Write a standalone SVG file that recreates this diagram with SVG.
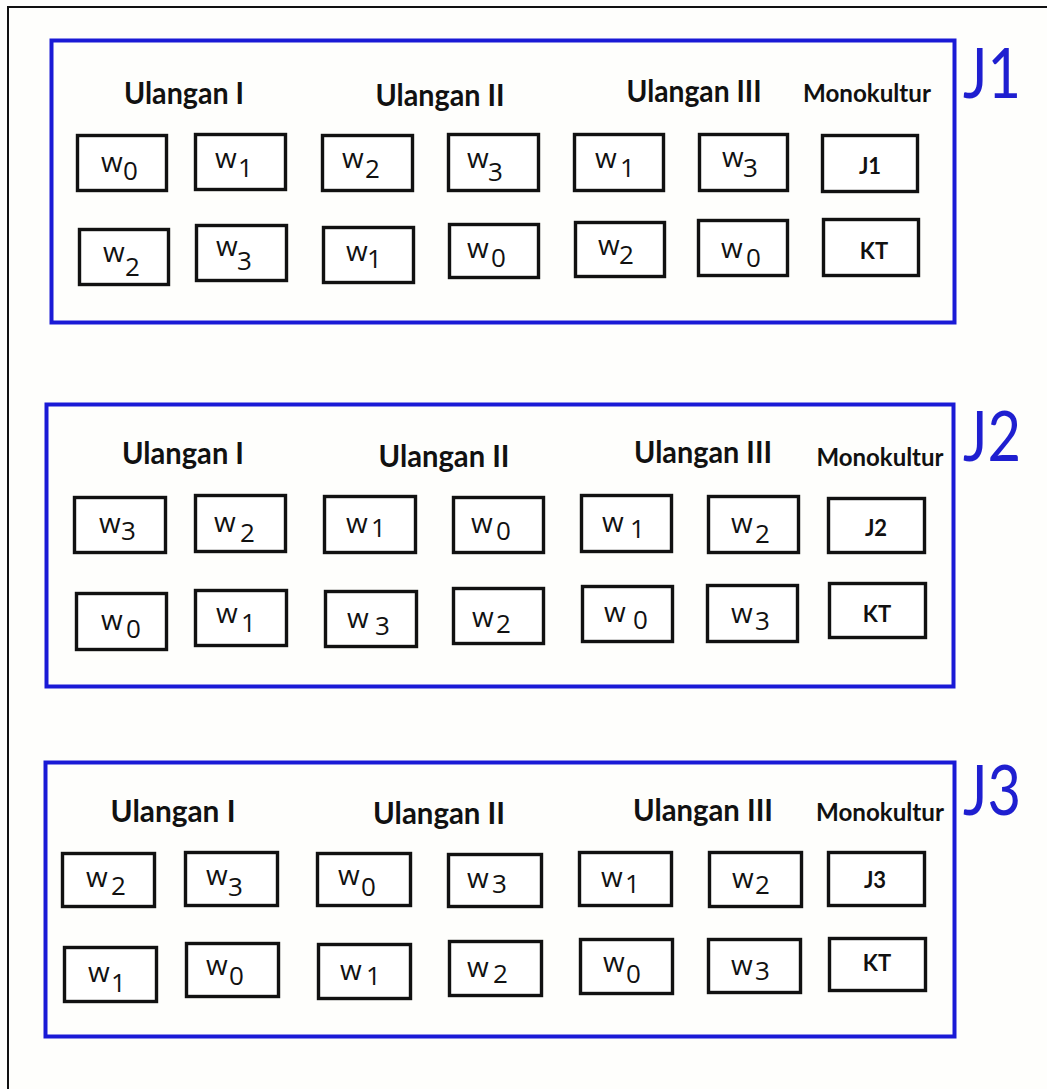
<svg xmlns="http://www.w3.org/2000/svg" width="1047" height="1089" viewBox="0 0 1047 1089">
<style>
.bg{fill:#fefefc}
.frame{fill:none;stroke:#111;stroke-width:2}
.blue{fill:none;stroke:#1a1ad6;stroke-width:4}
.cell{fill:#fff;stroke:#111;stroke-width:3.4}
.hdr{font-family:Lato,"Open Sans",sans-serif;font-weight:700;font-size:30px;fill:#111;text-anchor:middle}
.mono{font-size:25px}
.w{font-family:"Open Sans","Noto Sans",sans-serif;font-size:28px;font-weight:500;fill:#111}
.sub{font-size:26px;font-weight:400}
.lab{font-family:Lato,"Open Sans",sans-serif;font-weight:700;font-size:22px;fill:#111;text-anchor:middle}
.big{font-family:Lato,"Open Sans",sans-serif;font-size:70px;fill:#1f1fd0}
</style>
<rect class="bg" x="0" y="0" width="1047" height="1089"/>
<rect class="frame" x="8" y="7" width="1060" height="1100"/>
<g id="connectors"/>

<!-- J1 -->
<g id="block-J1">
<rect class="blue" x="51.5" y="40.5" width="903" height="282"/>
<text class="big" x="963" y="98" textLength="58" lengthAdjust="spacingAndGlyphs">J1</text>
<text class="hdr" x="184" y="104" textLength="120" lengthAdjust="spacingAndGlyphs">Ulangan I</text>
<text class="hdr" x="440" y="106" textLength="129" lengthAdjust="spacingAndGlyphs">Ulangan II</text>
<text class="hdr" x="694" y="102" textLength="135" lengthAdjust="spacingAndGlyphs">Ulangan III</text>
<text class="hdr mono" x="867" y="102" textLength="128" lengthAdjust="spacingAndGlyphs">Monokultur</text>
</g>
<g id="J1-r1-1"><rect class="cell" x="77.5" y="135.5" width="89" height="55"/><text class="w" x="101" y="172">w<tspan class="sub" x="123" y="180">0</tspan></text></g>
<g id="J1-r1-2"><rect class="cell" x="195.5" y="134.5" width="90" height="55"/><text class="w" x="215" y="168">w<tspan class="sub" x="238" y="177">1</tspan></text></g>
<g id="J1-r1-3"><rect class="cell" x="322.5" y="135.5" width="90" height="55"/><text class="w" x="342" y="168">w<tspan class="sub" x="365" y="178">2</tspan></text></g>
<g id="J1-r1-4"><rect class="cell" x="448.5" y="134.5" width="90" height="56"/><text class="w" x="467" y="168">w<tspan class="sub" x="488" y="181">3</tspan></text></g>
<g id="J1-r1-5"><rect class="cell" x="574.5" y="134.5" width="89" height="56"/><text class="w" x="595" y="168">w<tspan class="sub" x="620" y="177">1</tspan></text></g>
<g id="J1-r1-6"><rect class="cell" x="699.5" y="134.5" width="88" height="56"/><text class="w" x="722" y="167">w<tspan class="sub" x="743" y="177">3</tspan></text></g>
<g id="J1-r1-7"><rect class="cell" x="822.5" y="135.5" width="95" height="56"/><text class="lab" x="870" y="174">J1</text></g>
<g id="J1-r2-1"><rect class="cell" x="79.5" y="229.5" width="89" height="55"/><text class="w" x="103" y="262">w<tspan class="sub" x="125" y="276">2</tspan></text></g>
<g id="J1-r2-2"><rect class="cell" x="196.5" y="225.5" width="90" height="55"/><text class="w" x="216" y="256">w<tspan class="sub" x="237" y="270">3</tspan></text></g>
<g id="J1-r2-3"><rect class="cell" x="323.5" y="227.5" width="90" height="55"/><text class="w" x="346" y="261">w<tspan class="sub" x="367" y="268">1</tspan></text></g>
<g id="J1-r2-4"><rect class="cell" x="449.5" y="224.5" width="89" height="53"/><text class="w" x="467" y="258">w<tspan class="sub" x="491" y="267">0</tspan></text></g>
<g id="J1-r2-5"><rect class="cell" x="575.5" y="222.5" width="89" height="54"/><text class="w" x="598" y="255">w<tspan class="sub" x="619" y="264">2</tspan></text></g>
<g id="J1-r2-6"><rect class="cell" x="698.5" y="220.5" width="89" height="55"/><text class="w" x="721" y="258">w<tspan class="sub" x="746" y="267">0</tspan></text></g>
<g id="J1-r2-7"><rect class="cell" x="823.5" y="219.5" width="95" height="56"/><text class="lab" x="874" y="259">KT</text></g>

<!-- J2 -->
<g id="block-J2">
<rect class="blue" x="46.5" y="404.5" width="907" height="282"/>
<text class="big" x="963" y="461" textLength="58" lengthAdjust="spacingAndGlyphs">J2</text>
<text class="hdr" x="183" y="464" textLength="122" lengthAdjust="spacingAndGlyphs">Ulangan I</text>
<text class="hdr" x="444" y="467" textLength="131" lengthAdjust="spacingAndGlyphs">Ulangan II</text>
<text class="hdr" x="703" y="463" textLength="138" lengthAdjust="spacingAndGlyphs">Ulangan III</text>
<text class="hdr mono" x="880" y="466" textLength="127" lengthAdjust="spacingAndGlyphs">Monokultur</text>
</g>
<g id="J2-r1-1"><rect class="cell" x="74.5" y="497.5" width="91" height="55"/><text class="w" x="99" y="533">w<tspan class="sub" x="121" y="540">3</tspan></text></g>
<g id="J2-r1-2"><rect class="cell" x="195.5" y="495.5" width="90" height="56"/><text class="w" x="214" y="532">w<tspan class="sub" x="240" y="542">2</tspan></text></g>
<g id="J2-r1-3"><rect class="cell" x="324.5" y="496.5" width="91" height="56"/><text class="w" x="346" y="533">w<tspan class="sub" x="371" y="537">1</tspan></text></g>
<g id="J2-r1-4"><rect class="cell" x="453.5" y="497.5" width="90" height="55"/><text class="w" x="471" y="533">w<tspan class="sub" x="496" y="540">0</tspan></text></g>
<g id="J2-r1-5"><rect class="cell" x="581.5" y="495.5" width="90" height="56"/><text class="w" x="602" y="532">w<tspan class="sub" x="630" y="538">1</tspan></text></g>
<g id="J2-r1-6"><rect class="cell" x="708.5" y="496.5" width="90" height="56"/><text class="w" x="731" y="533">w<tspan class="sub" x="755" y="543">2</tspan></text></g>
<g id="J2-r1-7"><rect class="cell" x="828.5" y="498.5" width="96" height="54"/><text class="lab" x="876" y="536">J2</text></g>
<g id="J2-r2-1"><rect class="cell" x="76.5" y="593.5" width="90" height="56"/><text class="w" x="101" y="630">w<tspan class="sub" x="126" y="638">0</tspan></text></g>
<g id="J2-r2-2"><rect class="cell" x="195.5" y="590.5" width="91" height="55"/><text class="w" x="216" y="623">w<tspan class="sub" x="241" y="632">1</tspan></text></g>
<g id="J2-r2-3"><rect class="cell" x="325.5" y="591.5" width="91" height="55"/><text class="w" x="347" y="628">w<tspan class="sub" x="375" y="635">3</tspan></text></g>
<g id="J2-r2-4"><rect class="cell" x="453.5" y="588.5" width="90" height="55"/><text class="w" x="472" y="627">w<tspan class="sub" x="496" y="633">2</tspan></text></g>
<g id="J2-r2-5"><rect class="cell" x="582.5" y="586.5" width="90" height="55"/><text class="w" x="604" y="622">w<tspan class="sub" x="633" y="629">0</tspan></text></g>
<g id="J2-r2-6"><rect class="cell" x="707.5" y="585.5" width="90" height="56"/><text class="w" x="731" y="623">w<tspan class="sub" x="755" y="630">3</tspan></text></g>
<g id="J2-r2-7"><rect class="cell" x="829.5" y="583.5" width="96" height="54"/><text class="lab" x="877" y="622">KT</text></g>

<!-- J3 -->
<g id="block-J3">
<rect class="blue" x="45.5" y="762.5" width="909" height="274"/>
<text class="big" x="963" y="815" textLength="58" lengthAdjust="spacingAndGlyphs">J3</text>
<text class="hdr" x="173" y="822" textLength="125" lengthAdjust="spacingAndGlyphs">Ulangan I</text>
<text class="hdr" x="439" y="824" textLength="132" lengthAdjust="spacingAndGlyphs">Ulangan II</text>
<text class="hdr" x="703" y="821" textLength="140" lengthAdjust="spacingAndGlyphs">Ulangan III</text>
<text class="hdr mono" x="880" y="821" textLength="128" lengthAdjust="spacingAndGlyphs">Monokultur</text>
</g>
<g id="J3-r1-1"><rect class="cell" x="62.5" y="853.5" width="92" height="53"/><text class="w" x="86" y="887">w<tspan class="sub" x="111" y="895">2</tspan></text></g>
<g id="J3-r1-2"><rect class="cell" x="185.5" y="852.5" width="92" height="53"/><text class="w" x="206" y="885">w<tspan class="sub" x="228" y="896">3</tspan></text></g>
<g id="J3-r1-3"><rect class="cell" x="317.5" y="853.5" width="93" height="52"/><text class="w" x="338" y="885">w<tspan class="sub" x="361" y="896">0</tspan></text></g>
<g id="J3-r1-4"><rect class="cell" x="448.5" y="854.5" width="93" height="52"/><text class="w" x="467" y="888">w<tspan class="sub" x="492" y="893">3</tspan></text></g>
<g id="J3-r1-5"><rect class="cell" x="579.5" y="852.5" width="92" height="53"/><text class="w" x="601" y="887">w<tspan class="sub" x="625" y="893">1</tspan></text></g>
<g id="J3-r1-6"><rect class="cell" x="709.5" y="852.5" width="92" height="54"/><text class="w" x="732" y="888">w<tspan class="sub" x="755" y="894">2</tspan></text></g>
<g id="J3-r1-7"><rect class="cell" x="828.5" y="852.5" width="96" height="53"/><text class="lab" x="875" y="888">J3</text></g>
<g id="J3-r2-1"><rect class="cell" x="64.5" y="947.5" width="92" height="54"/><text class="w" x="88" y="982">w<tspan class="sub" x="111" y="992">1</tspan></text></g>
<g id="J3-r2-2"><rect class="cell" x="186.5" y="943.5" width="92" height="53"/><text class="w" x="206" y="975">w<tspan class="sub" x="229" y="985">0</tspan></text></g>
<g id="J3-r2-3"><rect class="cell" x="318.5" y="944.5" width="92" height="54"/><text class="w" x="340" y="980">w<tspan class="sub" x="366" y="985">1</tspan></text></g>
<g id="J3-r2-4"><rect class="cell" x="449.5" y="941.5" width="92" height="54"/><text class="w" x="467" y="977">w<tspan class="sub" x="493" y="983">2</tspan></text></g>
<g id="J3-r2-5"><rect class="cell" x="580.5" y="939.5" width="92" height="54"/><text class="w" x="603" y="972">w<tspan class="sub" x="626" y="983">0</tspan></text></g>
<g id="J3-r2-6"><rect class="cell" x="708.5" y="939.5" width="92" height="53"/><text class="w" x="731" y="975">w<tspan class="sub" x="755" y="980">3</tspan></text></g>
<g id="J3-r2-7"><rect class="cell" x="829.5" y="938.5" width="96" height="52"/><text class="lab" x="877" y="971">KT</text></g>
</svg>
